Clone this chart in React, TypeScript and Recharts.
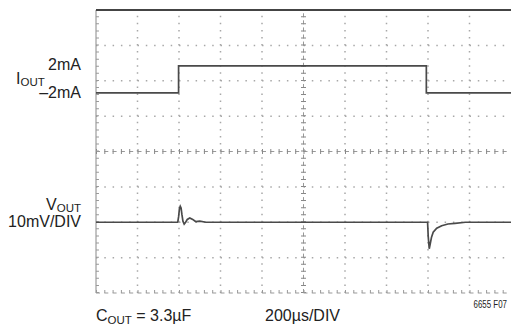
import { ComposedChart, Line, XAxis, YAxis, ReferenceLine } from 'recharts';

// time in µs (200µs/DIV, 10 divisions), levels in screen divisions (-4..4)
const iTime = [0, 398, 398, 1592, 1592, 2000];
const iLevel = [1.66, 1.66, 2.42, 2.42, 1.66, 1.66];

const vTime = [
  0, 394, 398, 402, 406, 410, 414, 419, 425, 432, 440, 452, 466, 480, 500, 530,
  1598, 1601, 1606, 1611, 1617, 1625, 1642, 1666, 1696, 1730, 1780, 2000,
];
const vLevel = [
  -2, -2, -1.85, -1.62, -1.55, -1.6, -1.78, -1.97, -2.05, -2.0, -1.92, -1.88, -1.92, -1.98, -1.97, -2,
  -2, -2.4, -2.75, -2.6, -2.42, -2.28, -2.17, -2.1, -2.05, -2.03, -2, -2,
];

const gridX = [200, 400, 600, 800, 1200, 1400, 1600, 1800];
const gridY = [-3, -2, -1, 1, 2, 3];

const iData = iTime.map((t, k) => ({ t, v: iLevel[k] }));
const vData = vTime.map((t, k) => ({ t, v: vLevel[k] }));

const FONT = 'Liberation Sans, Arial, sans-serif';
const TRACE = '#4a4a4a';
const DOT = '#a8a8a8';

export default function App() {
  return (
    <div style={{ position: 'absolute', left: 0, top: 0, width: 511, height: 329, background: '#fff' }}>
      <ComposedChart width={511} height={329} margin={{ top: 10, right: 0, bottom: 36, left: 96 }}>
        <XAxis type="number" dataKey="t" domain={[0, 2000]} hide allowDataOverflow />
        <YAxis type="number" domain={[-4, 4]} hide allowDataOverflow />

        {/* dotted major grid */}
        {gridX.map((x) => (
          <ReferenceLine key={`gx-${x}`} x={x} stroke={DOT} strokeWidth={1.5} strokeDasharray="1.5 5.57" />
        ))}
        {gridY.map((y) => (
          <ReferenceLine key={`gy-${y}`} y={y} stroke={DOT} strokeWidth={1.5} strokeDasharray="1.5 6.8" />
        ))}

        {/* center cross with minor ticks */}
        <ReferenceLine y={0} stroke="#999" strokeWidth={1} strokeDasharray="4 4.3" />
        <ReferenceLine y={0} stroke="#888" strokeWidth={5} strokeDasharray="1 7.3" />
        <ReferenceLine x={1000} stroke="#999" strokeWidth={1} strokeDasharray="4 3.07" />
        <ReferenceLine x={1000} stroke="#888" strokeWidth={5} strokeDasharray="1 6.07" />

        {/* border */}
        <ReferenceLine x={0} stroke="#888" strokeWidth={1} />
        <ReferenceLine x={7} stroke="#999" strokeWidth={3} strokeDasharray="1 6.07" />
        <ReferenceLine y={-4} stroke="#999" strokeWidth={1} strokeDasharray="4 4.3" />
        <ReferenceLine y={-3.96} stroke="#999" strokeWidth={3} strokeDasharray="1 7.3" />
        <ReferenceLine y={4} stroke="#444" strokeWidth={2} />

        <Line data={iData} dataKey="v" type="linear" stroke={TRACE} strokeWidth={1.7} dot={false} isAnimationActive={false} />
        <Line data={vData} dataKey="v" type="linear" stroke={TRACE} strokeWidth={1.7} dot={false} isAnimationActive={false} />
      </ComposedChart>

      <svg width={511} height={329} style={{ position: 'absolute', left: 0, top: 0, pointerEvents: 'none' }} fontFamily={FONT} fill="#222">
        <text x={81} y={70} fontSize={16} textAnchor="end">2mA</text>
        <text x={16} y={84} fontSize={16}>
          I<tspan fontSize={11.5} dy={2}>OUT</tspan>
        </text>
        <text x={81} y={98} fontSize={16} textAnchor="end">–2mA</text>

        <text x={81} y={210} fontSize={16} textAnchor="end">
          V<tspan fontSize={11.5} dy={2}>OUT</tspan>
        </text>
        <text x={81} y={227} fontSize={16} textAnchor="end">10mV/DIV</text>

        <text x={96} y={321} fontSize={16}>
          C<tspan fontSize={11.5} dy={3}>OUT</tspan>
          <tspan dy={-3}> = 3.3µF</tspan>
        </text>
        <text x={265} y={321} fontSize={16}>200µs/DIV</text>
        <text transform="translate(507 308) scale(0.72 1)" fontSize={11} textAnchor="end">6655 F07</text>
      </svg>
    </div>
  );
}
